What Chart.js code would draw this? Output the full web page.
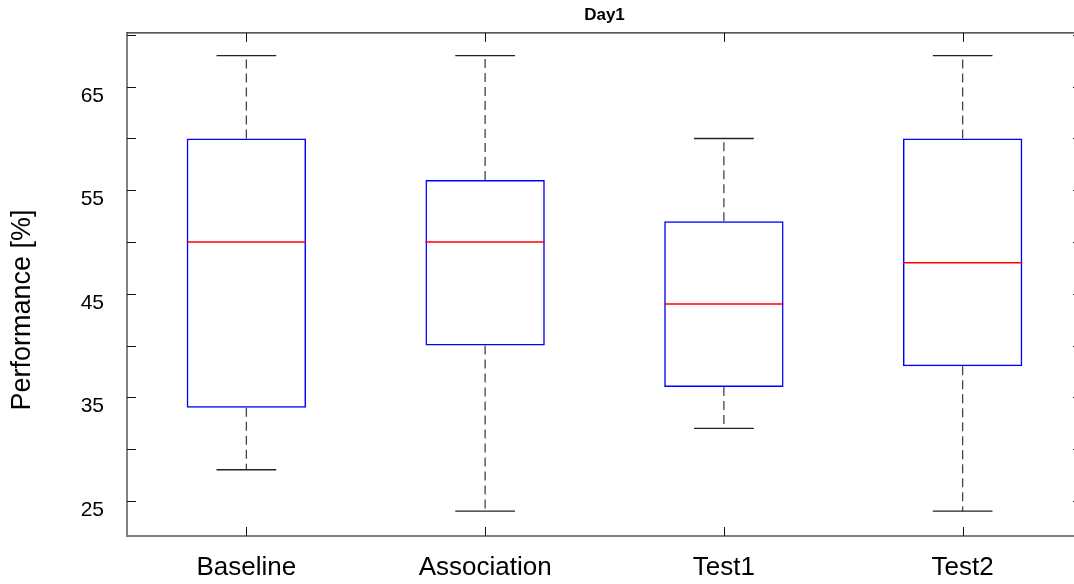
<!DOCTYPE html>
<html>
<head>
<meta charset="utf-8">
<script src="https://cdn.jsdelivr.net/npm/chart.js@4.4.1/dist/chart.umd.min.js"></script>
<style>
  html, body { margin: 0; padding: 0; background: #fff; overflow: hidden; }
  #wrap { width: 1090px; height: 584px; }
</style>
</head>
<body>
<div id="wrap"><canvas id="boxChart" width="1090" height="584"></canvas></div>
<script>
// data (Day1 boxplot)
const categories = ['Baseline', 'Association', 'Test1', 'Test2'];
const whiskerLow = [28, 24, 32, 24];
const quartile1 = [34, 40, 36, 38];
const medians = [50, 50, 44, 48];
const quartile3 = [60, 56, 52, 60];
const whiskerHigh = [68, 68, 60, 68];
const yTickValues = [25, 30, 35, 40, 45, 50, 55, 60, 65, 70];
const yLabelValues = [25, 35, 45, 55, 65];

const FONT = "'Liberation Sans', Arial, Helvetica, sans-serif";

// medians, whiskers, caps, inward ticks, frame and y label
const boxExtras = {
    id: 'boxExtras',
    afterDatasetsDraw(chart) {
        const ctx = chart.ctx;
        const x = chart.scales.x, y = chart.scales.y;
        const area = chart.chartArea;
        const meta = chart.getDatasetMeta(0);
        ctx.save();

        categories.forEach((c, i) => {
            const cx = x.getPixelForValue(i);
            const half = meta.data[i].width / 2;
            // whiskers (dashed)
            ctx.strokeStyle = '#444';
            ctx.lineWidth = 1.3;
            ctx.setLineDash([9, 5]);
            ctx.beginPath();
            ctx.moveTo(cx, y.getPixelForValue(quartile3[i]));
            ctx.lineTo(cx, y.getPixelForValue(whiskerHigh[i]));
            ctx.moveTo(cx, y.getPixelForValue(quartile1[i]));
            ctx.lineTo(cx, y.getPixelForValue(whiskerLow[i]));
            ctx.stroke();
            ctx.setLineDash([]);
            // caps
            ctx.strokeStyle = '#222';
            ctx.lineWidth = 1.3;
            ctx.beginPath();
            [whiskerHigh[i], whiskerLow[i]].forEach(v => {
                const py = y.getPixelForValue(v);
                ctx.moveTo(cx - half / 2, py);
                ctx.lineTo(cx + half / 2, py);
            });
            ctx.stroke();
            // median
            ctx.strokeStyle = '#ff0000';
            ctx.lineWidth = 1.5;
            ctx.beginPath();
            const my = y.getPixelForValue(medians[i]);
            ctx.moveTo(cx - half, my);
            ctx.lineTo(cx + half, my);
            ctx.stroke();
        });

        // top and right frame
        ctx.strokeStyle = '#222';
        ctx.lineWidth = 1.2;
        ctx.beginPath();
        ctx.moveTo(area.left, area.top);
        ctx.lineTo(area.right, area.top);
        ctx.lineTo(area.right, area.bottom);
        ctx.stroke();

        // inward tick marks
        ctx.strokeStyle = '#111';
        ctx.lineWidth = 1;
        ctx.beginPath();
        yTickValues.forEach(v => {
            const py = Math.round(y.getPixelForValue(v)) + 0.5;
            ctx.moveTo(area.left, py); ctx.lineTo(area.left + 9, py);
            ctx.moveTo(area.right, py); ctx.lineTo(area.right - 9, py);
        });
        categories.forEach((c, i) => {
            const px = Math.round(x.getPixelForValue(i)) + 0.5;
            ctx.moveTo(px, area.top); ctx.lineTo(px, area.top + 9);
            ctx.moveTo(px, area.bottom); ctx.lineTo(px, area.bottom - 9);
        });
        ctx.stroke();

        // y axis label
        ctx.fillStyle = '#000';
        ctx.font = '27px ' + FONT;
        ctx.textAlign = 'center';
        ctx.textBaseline = 'middle';
        ctx.translate(23, 310);
        ctx.rotate(-Math.PI / 2);
        ctx.fillText('Performance [%]', 0, 0);
        ctx.restore();
    }
};

new Chart(document.getElementById('boxChart'), {
    type: 'bar',
    data: {
        labels: categories,
        datasets: [{
            data: categories.map((c, i) => [quartile1[i], quartile3[i]]),
            backgroundColor: 'rgba(0,0,0,0)',
            borderColor: '#0000ff',
            borderWidth: 1.5,
            borderSkipped: false,
            barPercentage: 0.5,
            categoryPercentage: 1
        }]
    },
    options: {
        responsive: false,
        animation: false,
        layout: { padding: { left: 0, right: 8, top: 0, bottom: 0 } },
        plugins: {
            legend: { display: false },
            tooltip: { enabled: false },
            title: {
                display: true,
                text: 'Day1',
                fullSize: false,
                color: '#000',
                font: { family: FONT, size: 17, weight: 'bold' },
                padding: { top: 5, bottom: 7.5 }
            }
        },
        scales: {
            x: {
                type: 'category',
                offset: true,
                grid: { display: false },
                border: { display: true, color: '#808080', width: 2 },
                ticks: { color: '#000', font: { family: FONT, size: 26 }, padding: 8, maxRotation: 0 },
                afterFit(scale) { scale.height = 48; }
            },
            y: {
                min: 21.6,
                max: 70.2,
                grid: { display: false },
                border: { display: true, color: '#808080', width: 2 },
                afterBuildTicks(scale) { scale.ticks = yTickValues.map(v => ({ value: v })); },
                ticks: {
                    color: '#000',
                    font: { family: FONT, size: 21 },
                    padding: 15,
                    labelOffset: 9,
                    autoSkip: false,
                    callback: v => yLabelValues.includes(v) ? String(v) : ''
                },
                afterFit(scale) { scale.width = 127; }
            }
        }
    },
    plugins: [boxExtras]
});
</script>
</body>
</html>
